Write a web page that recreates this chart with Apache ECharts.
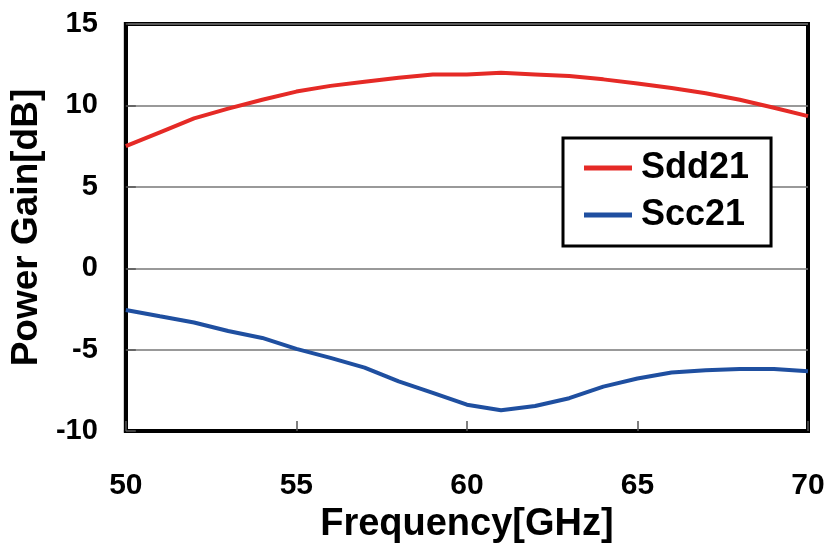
<!DOCTYPE html>
<html>
<head>
<meta charset="utf-8">
<script src="https://cdn.jsdelivr.net/npm/echarts@6/dist/echarts.min.js"></script>
<style>html,body{margin:0;padding:0;background:#fff;overflow:hidden;}#c{width:829px;height:549px;}</style>
</head>
<body>
<div id="c"></div>
<script>
var freq = [50,51,52,53,54,55,56,57,58,59,60,61,62,63,64,65,66,67,68,69,70];
var sdd21 = [7.5,8.35,9.2,9.8,10.35,10.85,11.2,11.45,11.7,11.9,11.9,12.0,11.9,11.8,11.6,11.35,11.07,10.75,10.35,9.86,9.34];
var scc21 = [-2.56,-2.95,-3.33,-3.85,-4.28,-4.95,-5.5,-6.1,-6.95,-7.65,-8.38,-8.72,-8.46,-7.98,-7.27,-6.77,-6.4,-6.26,-6.18,-6.18,-6.32];
var seriesNames = ['Sdd21','Scc21'];
var xTitle = 'Frequency[GHz]';
var yTitle = 'Power Gain[dB]';

function pairs(xs, ys){ return xs.map(function(x,i){return [x, ys[i]];}); }

var FONT = 'Liberation Sans, Arial, sans-serif';
var chart = echarts.init(document.getElementById('c'), null, {renderer:'canvas'});
chart.setOption({
  backgroundColor: '#fff',
  animation: false,
  grid: {left:124, right:21, top:24, bottom:113, show:true, borderColor:'#000', borderWidth:4, backgroundColor:'transparent'},
  legend: {
    left: 563, top: 138,
    orient: 'vertical',
    backgroundColor: '#fff',
    borderColor: '#000', borderWidth: 3,
    padding: [10, 22, 11, 21],
    itemWidth: 48, itemHeight: 5, itemGap: 7,
    icon: 'rect',
    textStyle: {fontFamily: FONT, fontWeight:'bold', fontSize:36, color:'#000', lineHeight:40, padding:[0,0,0,4]},
    data: seriesNames
  },
  xAxis: {
    type: 'value', min: 50, max: 70, interval: 5,
    name: xTitle, nameLocation: 'middle', nameGap: 72,
    nameTextStyle: {fontFamily: FONT, fontWeight:'bold', fontSize:38, color:'#000'},
    axisLine: {onZero:false, lineStyle:{color:'#000', width:4}},
    axisTick: {inside:true, length:10, lineStyle:{color:'#555', width:1.5}},
    axisLabel: {fontFamily: FONT, fontWeight:'bold', fontSize:30, color:'#000', margin:40},
    splitLine: {show:false}
  },
  yAxis: {
    type: 'value', min: -10, max: 15, interval: 5,
    name: yTitle, nameLocation: 'middle', nameGap: 74,
    nameTextStyle: {fontFamily: FONT, fontWeight:'bold', fontSize:37, color:'#000'},
    axisLine: {onZero:false, lineStyle:{color:'#000', width:4}},
    axisTick: {inside:true, length:10, lineStyle:{color:'#555', width:1.5}},
    axisLabel: {fontFamily: FONT, fontWeight:'bold', fontSize:29, color:'#000', margin:28},
    splitLine: {show:true, lineStyle:{color:'#777', width:1.5}}
  },
  series: [
    {name: seriesNames[0], type:'line', data: pairs(freq, sdd21), showSymbol:false, symbol:'none',
     lineStyle:{color:'#e52a26', width:4}, itemStyle:{color:'#e52a26'}},
    {name: seriesNames[1], type:'line', data: pairs(freq, scc21), showSymbol:false, symbol:'none',
     lineStyle:{color:'#1f4fa0', width:4}, itemStyle:{color:'#1f4fa0'}}
  ]
});
</script>
</body>
</html>
